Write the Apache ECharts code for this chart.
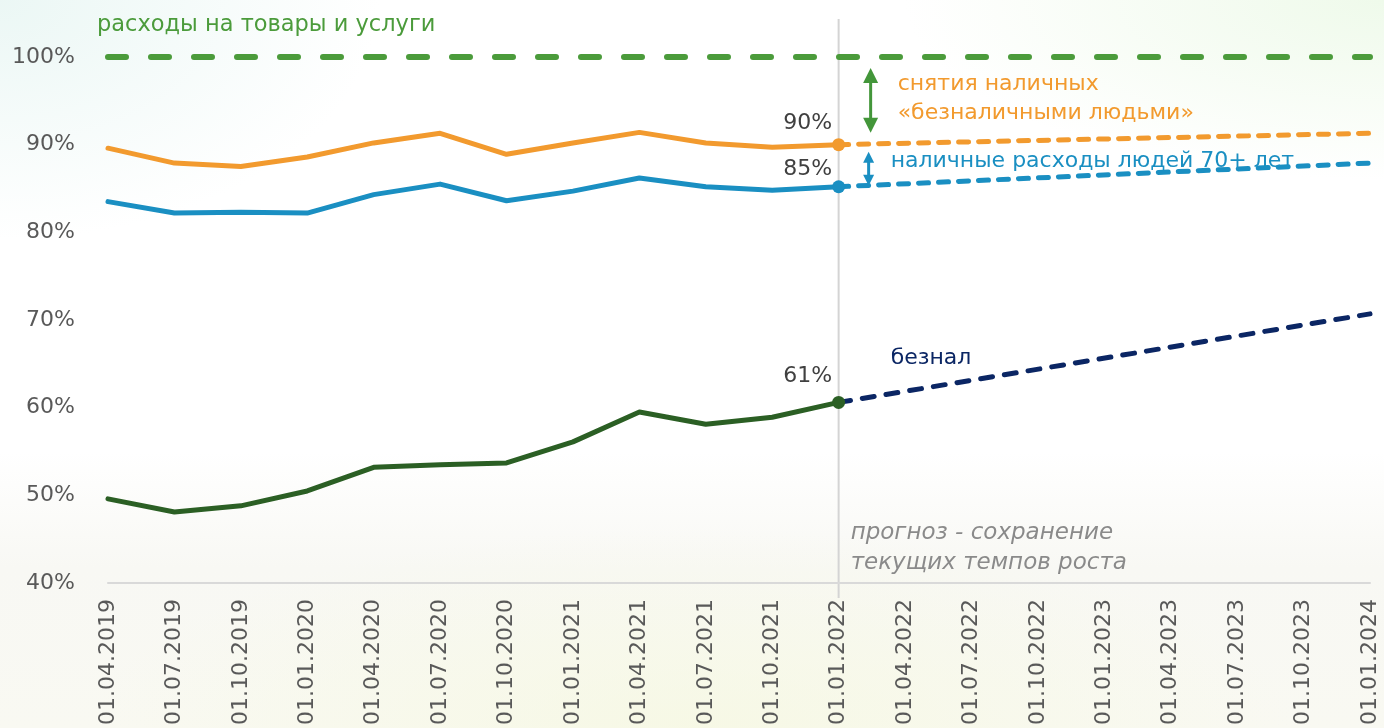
<!DOCTYPE html>
<html>
<head>
<meta charset="utf-8">
<script src="https://cdn.jsdelivr.net/npm/echarts@6/dist/echarts.min.js"></script>
<style>
  html, body {margin: 0; padding: 0;}
  body {
    width: 1384px; height: 728px;
    background:
      radial-gradient(ellipse 380px 240px at 0% 0%, rgba(222, 242, 238, 0.6), rgba(255,255,255,0)),
      radial-gradient(ellipse 480px 180px at 100% 0%, rgba(232, 248, 226, 0.7), rgba(255,255,255,0)),
      radial-gradient(ellipse 600px 200px at 50% 100%, rgba(246, 248, 226, 0.8), rgba(255,255,255,0)),
      linear-gradient(to bottom, #ffffff 0%, #ffffff 62%, #f8f8f4 78%, #f9f9f2 100%);
  }
  #chart {width: 1384px; height: 728px;}
</style>
</head>
<body>
<div id="chart"></div>
<script>
// quarterly dates
const categories = [
  '01.04.2019', '01.07.2019', '01.10.2019', '01.01.2020', '01.04.2020',
  '01.07.2020', '01.10.2020', '01.01.2021', '01.04.2021', '01.07.2021',
  '01.10.2021', '01.01.2022', '01.04.2022', '01.07.2022', '01.10.2022',
  '01.01.2023', '01.04.2023', '01.07.2023', '01.10.2023', '01.01.2024'
];
// actual values, % of spending on goods and services
const withdrawals = [89.6, 87.9, 87.5, 88.6, 90.2, 91.3, 88.9, 90.2, 91.4, 90.2, 89.7, 90.0];
const elderly = [83.5, 82.2, 82.3, 82.2, 84.3, 85.5, 83.6, 84.7, 86.2, 85.2, 84.8, 85.2];
const cashless = [49.6, 48.1, 48.8, 50.5, 53.2, 53.5, 53.7, 56.1, 59.5, 58.1, 58.9, 60.6];
// forecast end points (01.01.2024)
const withdrawalsEnd = 91.3;
const elderlyEnd = 87.9;
const cashlessEnd = 70.7;
const pointLabels = ['90%', '85%', '61%'];
const yTicks = {min: 40, max: 100, interval: 10};

const FONT = '"DejaVu Sans", sans-serif';
const ORANGE = '#f29a2e';
const BLUE = '#1a8fc2';
const DKGREEN = '#2b5f24';
const NAVY = '#0b2664';
const GREEN = '#4b9b3b';
const lastIdx = withdrawals.length - 1;

const actual = (values, color, label, dist) => ({
  type: 'line',
  symbol: 'none',
  z: 3,
  lineStyle: {color, width: 5, cap: 'round', join: 'round'},
  itemStyle: {color},
  data: categories.map((c, i) => {
    if (i > lastIdx) return null;
    if (i < lastIdx) return values[i];
    return {
      value: values[i], symbol: 'circle', symbolSize: 13,
      label: {
        show: true, formatter: label, position: 'top', distance: dist,
        offset: [-31, 0], color: '#404040', fontSize: 22, fontFamily: FONT
      }
    };
  })
});

const forecast = (start, end, color, dash) => ({
  type: 'line',
  symbol: 'none',
  connectNulls: true,
  z: 2,
  lineStyle: {color, width: 5, type: dash, cap: 'round'},
  data: categories.map((c, i) => i === lastIdx ? start : (i === categories.length - 1 ? end : null))
});

const myChart = echarts.init(document.getElementById('chart'));

myChart.setOption({
  animation: false,
  backgroundColor: 'transparent',
  grid: {left: 108, right: 14, top: 57, bottom: 145},
  xAxis: {
    type: 'category',
    data: categories,
    boundaryGap: false,
    axisLine: {lineStyle: {color: '#d9d9d9', width: 2}},
    axisTick: {show: false},
    axisLabel: {rotate: 90, margin: 16, color: '#595959', fontSize: 22, fontFamily: FONT, interval: 0}
  },
  yAxis: {
    type: 'value',
    min: yTicks.min, max: yTicks.max, interval: yTicks.interval,
    axisLine: {show: false},
    axisTick: {show: false},
    splitLine: {show: false},
    axisLabel: {formatter: '{value}%', margin: 33, color: '#595959', fontSize: 22, fontFamily: FONT}
  },
  series: [
    {
      type: 'line', data: [], silent: true,
      markLine: {
        symbol: 'none', silent: true, label: {show: false},
        lineStyle: {color: GREEN, width: 6, type: [18, 25], cap: 'round'},
        data: [{yAxis: 100}]
      }
    },
    forecast(withdrawals[lastIdx], withdrawalsEnd, ORANGE, [10, 10]),
    forecast(elderly[lastIdx], elderlyEnd, BLUE, [10, 10]),
    forecast(cashless[lastIdx], cashlessEnd, NAVY, [12, 12]),
    actual(withdrawals, ORANGE, pointLabels[0], 4),
    actual(elderly, BLUE, pointLabels[1], 0),
    actual(cashless, DKGREEN, pointLabels[2], 9)
  ]
});

// annotations placed relative to the data
const toPx = (i, v) => myChart.convertToPixel({xAxisIndex: 0, yAxisIndex: 0}, [i, v]);
const p100 = toPx(lastIdx, 100);
const pOr = toPx(lastIdx, withdrawals[lastIdx]);
const pBl = toPx(lastIdx, elderly[lastIdx]);
const pGr = toPx(lastIdx, cashless[lastIdx]);
const p40 = toPx(lastIdx, 40);
const x0 = toPx(0, 100)[0];

const arrow = (x, y1, y2, color, w, h) => [
  {type: 'line', shape: {x1: x, y1: y1 + h - 2, x2: x, y2: y2 - h + 2}, style: {stroke: color, lineWidth: 3}},
  {type: 'polygon', shape: {points: [[x, y1], [x - w / 2, y1 + h], [x + w / 2, y1 + h]]}, style: {fill: color}},
  {type: 'polygon', shape: {points: [[x, y2], [x - w / 2, y2 - h], [x + w / 2, y2 - h]]}, style: {fill: color}}
];
const txt = (x, y, text, color, extra) => ({
  type: 'text', x, y,
  style: Object.assign({text, fill: color, fontSize: 22, fontFamily: FONT, textVerticalAlign: 'middle'}, extra || {})
});

const ax = pOr[0] + 32;
myChart.setOption({
  graphic: [
    {type: 'line', z: 0, shape: {x1: pOr[0], y1: 19, x2: pOr[0], y2: p40[1] + 15}, style: {stroke: '#d4d4d4', lineWidth: 2}},
    ...arrow(ax, p100[1] + 11, pOr[1] - 12, '#43963a', 15, 15),
    ...arrow(ax - 2, pOr[1] + 7, pBl[1] - 1, BLUE, 11, 11),
    txt(x0 - 11, 25, 'расходы на товары и услуги', GREEN, {fontSize: 22.5}),
    txt(ax + 27, 84, 'снятия наличных', ORANGE),
    txt(ax + 27, 113, '«безналичными людьми»', ORANGE),
    txt(ax + 20, 161, 'наличные расходы людей 70+ лет', BLUE),
    txt(pGr[0] + 52, pGr[1] - 44, 'безнал', NAVY),
    txt(pOr[0] + 12, 533, 'прогноз - сохранение', '#8a8a8a', {fontStyle: 'italic', fontSize: 23}),
    txt(pOr[0] + 12, 563, 'текущих темпов роста', '#8a8a8a', {fontStyle: 'italic', fontSize: 23})
  ]
});
</script>
</body>
</html>
